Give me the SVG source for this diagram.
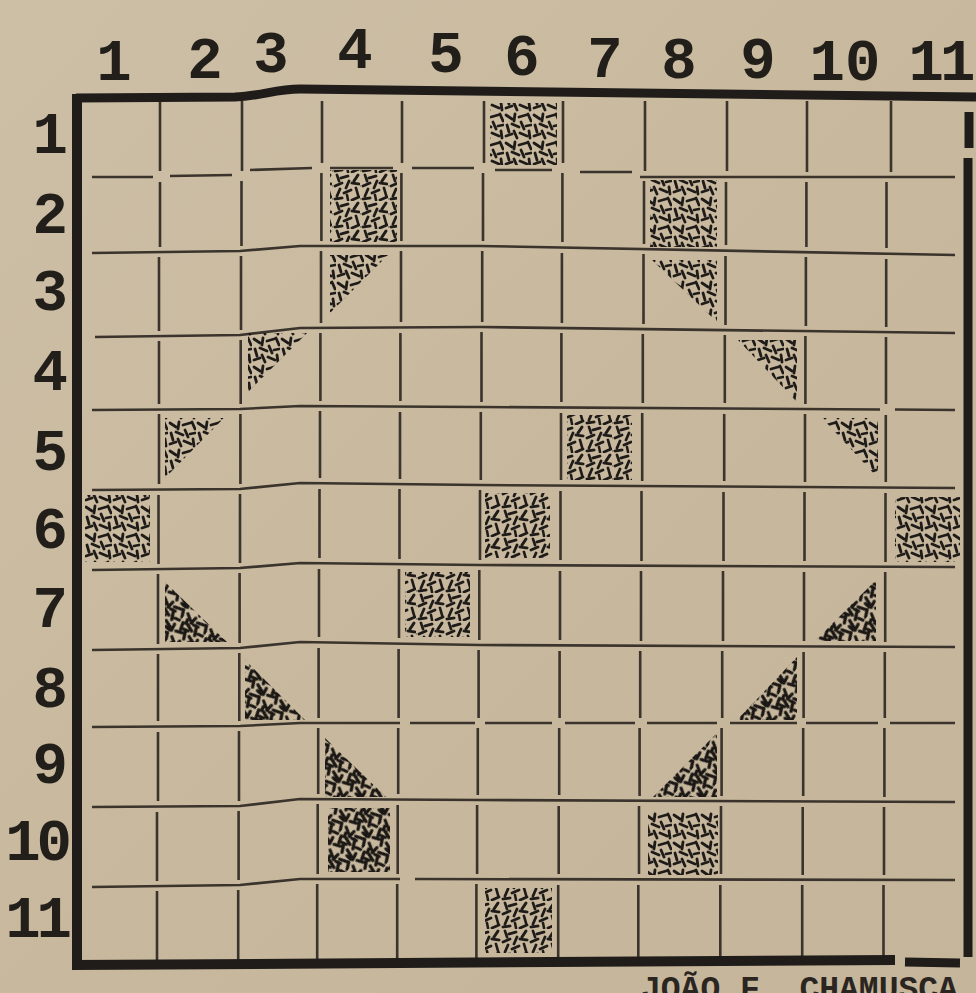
<svg xmlns="http://www.w3.org/2000/svg" xmlns:xlink="http://www.w3.org/1999/xlink" width="976" height="993" viewBox="0 0 976 993">
<style>
.grid{fill:none;stroke:#3a342d;stroke-width:2.6;stroke-linecap:butt}
.border{fill:none;stroke:#1f1c19;stroke-linecap:butt}
.lbl{font-family:"Liberation Mono","Courier New",monospace;font-weight:bold;font-size:59px;fill:#221e1a}
.tight{letter-spacing:-4px}
.cap{font-family:"Liberation Mono","Courier New",monospace;font-weight:bold;font-size:33px;fill:#2a2520}
.hA{fill:url(#hA)}
.hB{fill:url(#hB)}
.hD{fill:url(#hD)}
</style>
<defs>
<linearGradient id="paper" x1="0" y1="0" x2="1" y2="1">
<stop offset="0" stop-color="#cdbfa6"/>
<stop offset="0.5" stop-color="#c8b99e"/>
<stop offset="1" stop-color="#c4b59b"/>
</linearGradient>
<path id="hs" fill="none" stroke="#1e1b18" stroke-width="2.8" stroke-linecap="round" d="M2,3L8,7M11,2L10,9M15,5L22,3M24,2L27,9M3,13L5,20M8,12L15,15M17,10L20,17M22,14L27,13M2,24L8,22M10,19L13,26M16,21L23,24M25,19L26,26"/>
<path id="hs2" fill="none" stroke="#1a1714" stroke-width="3.2" stroke-linecap="round" d="M2,3L8,7M11,2L10,9M15,5L22,3M24,2L27,9M3,13L5,20M8,12L15,15M17,10L20,17M22,14L27,13M2,24L8,22M10,19L13,26M16,21L23,24M25,19L26,26M5,8L6,12M13,9L18,8M12,17L7,18M19,26L24,27"/>
<pattern id="hA" width="28" height="28" patternUnits="userSpaceOnUse"><use xlink:href="#hs"/></pattern>
<pattern id="hB" width="28" height="28" patternUnits="userSpaceOnUse" patternTransform="rotate(90) translate(5,3)"><use xlink:href="#hs"/></pattern>
<pattern id="hD" width="28" height="28" patternUnits="userSpaceOnUse" patternTransform="rotate(35)"><use xlink:href="#hs2"/></pattern>
</defs>
<rect id="background" x="0" y="0" width="976" height="993" fill="url(#paper)"/>

<g id="grid-lines" class="grid">
<path d="M160,101V171M160,182V247M159,257V331M159,341V404M159,414V484M158.5,495V564M158,574V644M158,654V721M158,732V801M157,812V881M157,891V960"/>
<path d="M242,101V171M241.5,181V246M241,256V330M240.7,340V404M240.4,414V484M240,494V563M239.6,573V643M239.3,653V721M239,731V801M238.6,811V880M238.2,890V960"/>
<path d="M322,101V163M321.4,173V241M321,251V323M320.4,333V401M320,411V478M319.5,489V558M319,569V637M318.6,648V718M318.2,728V794M317.7,804V874M317.2,884V960"/>
<path d="M402,101V163M401.4,173V241M401,251V322M400.4,333V401M400,412V479M399.5,489V559M399,569V638M398.6,649V718M398.2,728V794M397.7,805V874M397.2,884V960"/>
<path d="M484,101V163M483,173V241M482.2,251V322M481.5,332V402M480.8,412V480M480,490V560M479.3,570V640M478.6,650V718M477.8,728V795M477.1,805V874M476.4,884V960"/>
<path d="M563,101V163M562.4,173V242M561.9,253V323M561.4,333V402M561,413V480M560.5,491V560M560,571V640M559.6,651V718M559.2,728V795M558.7,806V874M558.2,885V960"/>
<path d="M645,101V171M644,181V244M643.5,254V324M642.8,334V403M642.2,413V481M641.5,491V561M641,571V641M640.2,651V718M639.6,728V796M639,806V874M638.3,885V960"/>
<path d="M727,101V171M726,182V245M725.5,256V325M724.8,335V403M724.2,414V481M723.5,492V561M723,571V641M722.2,651V718M721.6,728V796M721,806V874M720.3,885V960"/>
<path d="M807,101V172M806.4,182V247M805.9,257V326M805.4,336V404M805,414V482M804.5,492V561M804,572V641M803.6,652V718M803.2,728V796M802.7,807V875M802.2,885V960"/>
<path d="M891,101V172M886.5,182V248M886.2,259V327M886,337V404M885.8,415V482M885.5,493V562M885.2,572V642M884.8,652V718M884.4,728V797M884,807V875M883.5,885V960"/>
<path d="M92,177L153,177M170,176L232,175M250,170L312,168M330,168L393,168M412,168L474,168M495,170L552,170M580,172L632,172M640,177L955,177"/>
<path d="M92,253L240,251L300,246L480,246L955,255"/>
<path d="M95,337L240,335L300,328L480,327L955,333"/>
<path d="M92,410L240,409L300,406L480,407L880,409.5M895,409.5L955,410"/>
<path d="M92,490L240,489L300,483L480,485L955,488"/>
<path d="M92,570L240,568L300,563L480,565L955,567"/>
<path d="M92,650L240,648L300,642L480,645L955,647"/>
<path d="M92,727L240,726L300,723L400,723M410,723L475,723M485,723L552,723M565,723L635,723M647,723L717,723M730,723L797,723M806,723L878,723M890,723L955,723"/>
<path d="M92,807L240,806L300,799L480,800L955,802"/>
<path d="M92,887L240,885L300,879L400,879M415,879L955,880"/>
</g>

<g id="border" class="border">
<path d="M76,98L235,97C262,96 275,89 300,89L976,97" stroke-width="9"/>
<path d="M77,94V968" stroke-width="10"/>
<path d="M72,965L895,960" stroke-width="10"/>
<path d="M905,962L960,963" stroke-width="9"/>
<path d="M969,112V148" stroke-width="9"/>
<path d="M968,158V957" stroke-width="9"/>
</g>

<g id="shaded-squares">
<rect class="hA" x="490" y="103" width="67" height="62"/>
<rect class="hB" x="330" y="170" width="67" height="72"/>
<rect class="hA" x="650" y="180" width="67" height="67"/>
<rect class="hB" x="567" y="415" width="65" height="65"/>
<rect class="hA" x="85" y="495" width="65" height="67"/>
<rect class="hB" x="485" y="493" width="65" height="65"/>
<rect class="hA" x="895" y="497" width="65" height="65"/>
<rect class="hB" x="405" y="572" width="65" height="65"/>
<rect class="hD" x="328" y="808" width="62" height="64"/>
<rect class="hA" x="648" y="812" width="70" height="63"/>
<rect class="hB" x="485" y="888" width="67" height="65"/>
</g>

<g id="shaded-triangles">
<polygon class="hA" points="330,255 388,255 330,313"/>
<polygon class="hA" points="248,333 307,333 248,392"/>
<polygon class="hA" points="165,418 224,418 165,478"/>
<polygon class="hA" points="652,260 717,260 717,322"/>
<polygon class="hA" points="738,340 797,340 797,402"/>
<polygon class="hA" points="822,418 878,418 878,478"/>
<polygon class="hD" points="165,582 165,642 227,642"/>
<polygon class="hD" points="245,660 245,720 305,720"/>
<polygon class="hD" points="325,738 325,797 386,797"/>
<polygon class="hD" points="876,580 876,641 815,641"/>
<polygon class="hD" points="797,657 797,720 737,720"/>
<polygon class="hD" points="717,733 717,797 653,797"/>
</g>

<g id="column-labels" class="lbl" text-anchor="middle">
<text x="114" y="80">1</text>
<text x="205" y="78">2</text>
<text x="271" y="72">3</text>
<text x="355" y="68">4</text>
<text x="446" y="72">5</text>
<text x="522" y="75">6</text>
<text x="605" y="77">7</text>
<text x="679" y="78">8</text>
<text x="758" y="78">9</text>
<text x="845" y="80">10</text>
<text x="940" y="80" class="tight">11</text>
</g>

<g id="row-labels" class="lbl" text-anchor="end">
<text x="68" y="153">1</text>
<text x="68" y="233">2</text>
<text x="68" y="310">3</text>
<text x="68" y="390">4</text>
<text x="68" y="470">5</text>
<text x="68" y="548">6</text>
<text x="68" y="627">7</text>
<text x="68" y="707">8</text>
<text x="68" y="783">9</text>
<text x="68" y="860" class="tight">10</text>
<text x="68" y="937" class="tight">11</text>
</g>

<g id="caption">
<text class="cap" x="641" y="999">JOÃO F. CHAMUSCA</text>
</g>
</svg>
